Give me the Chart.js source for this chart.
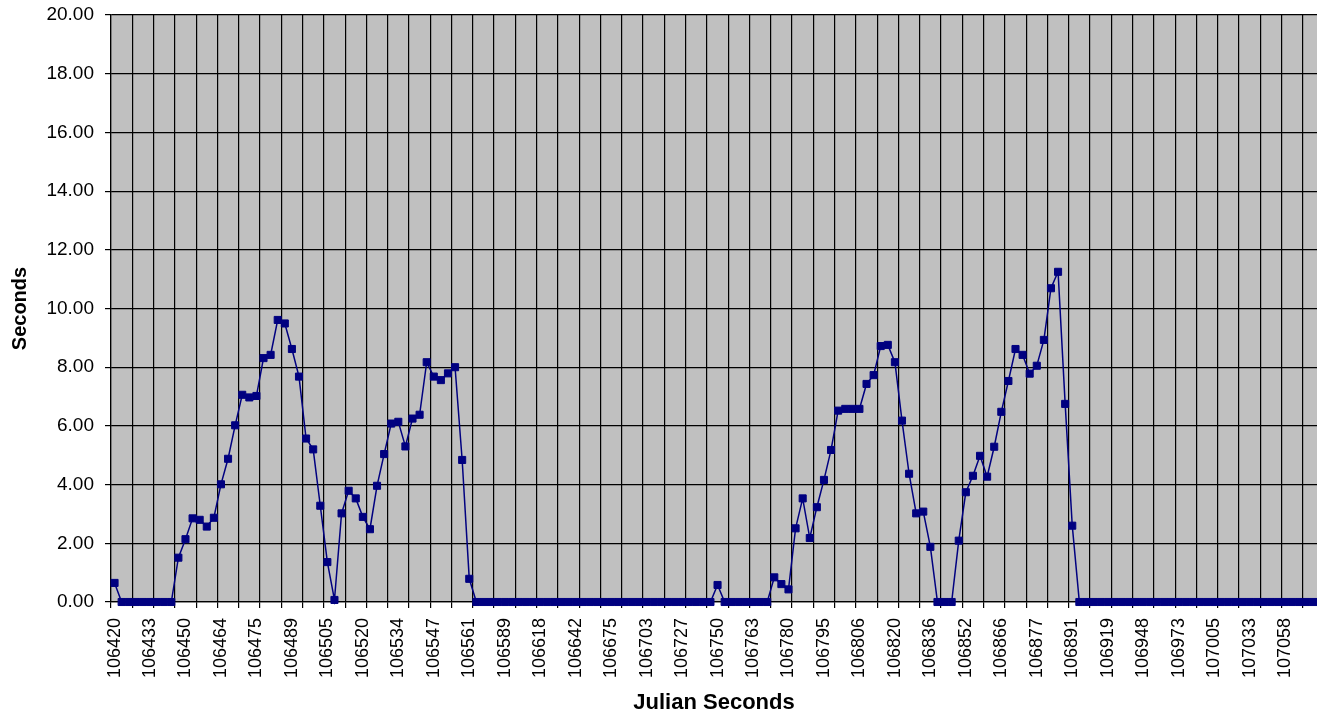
<!DOCTYPE html>
<html>
<head>
<meta charset="utf-8">
<title>Julian Seconds</title>
<script src="https://cdn.jsdelivr.net/npm/chart.js@4/dist/chart.umd.min.js"></script>
<style>
  html, body { margin: 0; padding: 0; background: #fff; }
  canvas { display: block; }
</style>
</head>
<body>
<canvas id="chart" width="1317" height="719"></canvas>
<script>
// Labels shown under the axis (one every 5 categories)
const tickLabels = [
  "106420", "106433", "106450", "106464", "106475", "106489", "106505",
  "106520", "106534", "106547", "106561", "106589", "106618", "106642",
  "106675", "106703", "106727", "106750", "106763", "106780", "106795",
  "106806", "106820", "106836", "106852", "106866", "106877", "106891",
  "106919", "106948", "106973", "107005", "107033", "107058",
];

// Seconds for each sample
const seconds = [
  0.65, 0, 0, 0, 0, 0, 0, 0, 0, 1.51,
  2.14, 2.85, 2.8, 2.57, 2.87, 4.01, 4.88, 6.02, 7.06, 6.97,
  7.02, 8.31, 8.42, 9.61, 9.49, 8.62, 7.68, 5.57, 5.2, 3.28,
  1.36, 0.07, 3.02, 3.79, 3.53, 2.9, 2.48, 3.96, 5.04, 6.08,
  6.14, 5.3, 6.25, 6.38, 8.17, 7.68, 7.56, 7.79, 8.0, 4.84,
  0.79, 0, 0, 0, 0, 0, 0, 0, 0, 0,
  0, 0, 0, 0, 0, 0, 0, 0, 0, 0,
  0, 0, 0, 0, 0, 0, 0, 0, 0, 0,
  0, 0, 0, 0, 0, 0.58, 0, 0, 0, 0,
  0, 0, 0, 0.84, 0.61, 0.43, 2.51, 3.53, 2.18, 3.23,
  4.16, 5.18, 6.52, 6.58, 6.58, 6.58, 7.43, 7.73, 8.72, 8.76,
  8.17, 6.18, 4.37, 3.02, 3.08, 1.88, 0, 0, 0, 2.09,
  3.74, 4.3, 4.98, 4.27, 5.29, 6.48, 7.53, 8.62, 8.42, 7.78,
  8.05, 8.93, 10.69, 11.25, 6.75, 2.6, 0, 0, 0, 0,
  0, 0, 0, 0, 0, 0, 0, 0, 0, 0,
  0, 0, 0, 0, 0, 0, 0, 0, 0, 0,
  0, 0, 0, 0, 0, 0, 0, 0, 0, 0,
];

// Only every 5th category carries a visible label
const categories = seconds.map((_, i) => (i % 5 === 0 ? tickLabels[i / 5] : ""));

const NAVY = "#000080";
const FONT = "'Liberation Sans', Arial, sans-serif";

// Grey plot area like the old Excel charts
const plotBackground = {
  id: "plotBackground",
  beforeDraw(chart) {
    const { ctx, chartArea } = chart;
    ctx.save();
    ctx.fillStyle = "#c0c0c0";
    ctx.fillRect(chartArea.left, chartArea.top, chartArea.right - chartArea.left, chartArea.bottom - chartArea.top);
    ctx.restore();
  },
};

new Chart(document.getElementById("chart"), {
  type: "line",
  data: {
    labels: categories,
    datasets: [
      {
        data: seconds,
        borderColor: NAVY,
        backgroundColor: NAVY,
        borderWidth: 1.5,
        pointStyle: "rect",
        pointRadius: 5,
        pointBorderWidth: 1,
        pointBackgroundColor: NAVY,
        pointBorderColor: NAVY,
        tension: 0,
        clip: false,
      },
    ],
  },
  options: {
    responsive: false,
    animation: false,
    // the plot runs right up to the edge of the picture (no room kept for markers)
    layout: { autoPadding: false, padding: { top: 15, right: 0, bottom: 0, left: 0 } },
    plugins: {
      legend: { display: false },
      tooltip: { enabled: false },
    },
    scales: {
      x: {
        type: "category",
        offset: true,
        // fixed height, and no extra room for the rotated labels
        afterFit: (scale) => {
          scale.height = 117;
          scale.paddingLeft = 0;
          scale.paddingRight = 0;
        },
        grid: {
          offset: true,
          color: (ctx) => (ctx.index % 3 === 0 ? "#000" : "rgba(0,0,0,0)"),
          lineWidth: 1.2,
          tickLength: 6,
        },
        border: { color: "#000", width: 1.2 },
        ticks: {
          autoSkip: false,
          maxRotation: 90,
          minRotation: 90,
          padding: 10,
          color: "#000",
          font: { family: FONT, size: 18 },
        },
        title: {
          display: true,
          text: "Julian Seconds",
          color: "#000",
          font: { family: FONT, size: 22, weight: "bold" },
          padding: { top: 0, bottom: 3 },
        },
      },
      y: {
        min: 0,
        max: 20,
        afterFit: (scale) => {
          scale.width = 111;
          scale.paddingTop = 0;
          scale.paddingBottom = 0;
        },
        grid: { color: "#000", lineWidth: 1.2, tickLength: 6 },
        border: { color: "#000", width: 1.2 },
        ticks: {
          stepSize: 2,
          padding: 11,
          color: "#000",
          font: { family: FONT, size: 19 },
          callback: (value) => value.toFixed(2),
        },
        title: {
          display: true,
          text: "Seconds",
          color: "#000",
          font: { family: FONT, size: 20, weight: "bold" },
          padding: { top: 8, bottom: 0 },
        },
      },
    },
  },
  plugins: [plotBackground],
});
</script>
</body>
</html>
